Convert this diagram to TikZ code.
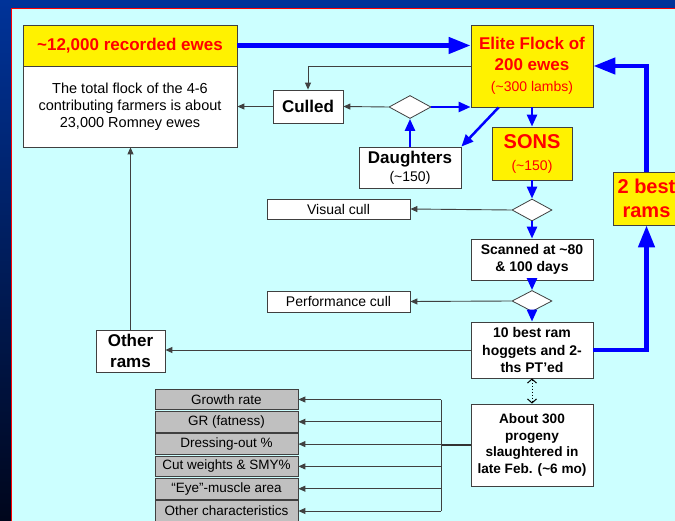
\documentclass[tikz,border=0pt]{standalone}
\usepackage{fontspec}
\setmainfont{Liberation Sans}
\usetikzlibrary{arrows.meta, shapes.geometric}

\definecolor{panel}{RGB}{204,255,255}
\definecolor{frametop}{RGB}{0,51,153}
\definecolor{framebot}{RGB}{0,6,28}
\definecolor{boxgray}{RGB}{192,192,192}

\begin{document}
\begin{tikzpicture}[x=1pt, y=-1pt,
    wbox/.style={draw=black!75, fill=white, line width=0.8pt, align=center, inner sep=0pt},
    ybox/.style={wbox, fill=yellow, text=red},
    gbox/.style={wbox, fill=boxgray, minimum width=143pt, minimum height=20.5pt, font=\fontsize{13.5}{16}\selectfont},
    dia/.style={diamond, draw=black!75, fill=white, line width=0.8pt, inner sep=0pt},
    thinarr/.style={draw=black!75, line width=0.9pt, -{Triangle[length=7pt,width=6pt]}},
    bluearr/.style={draw=blue, line width=2.5pt, -{Triangle[length=12pt,width=10pt]}},
    bluethick/.style={draw=blue, line width=4.5pt, -{Triangle[length=22pt,width=16pt]}}]
    \useasboundingbox (0,0) rectangle (675,521);
    \clip (0,0) rectangle (675,521);
    \shade[top color=frametop, bottom color=framebot] (0,0) rectangle (675,521);
    \fill[panel] (11,9) rectangle (690,540);
    \draw[red, line width=1pt] (11,540) -- (11,9) -- (690,9);

    \node[ybox, minimum width=214pt, minimum height=41pt, font=\fontsize{17}{20}\selectfont\bfseries] (rec) at (130,45.5) {\textasciitilde12,000 recorded ewes};
    \node[wbox, minimum width=214pt, minimum height=81pt, font=\fontsize{14.5}{17}\selectfont] (tot) at (130,106.5) {The total flock of the 4-6\\contributing farmers is about\\23,000 Romney ewes};
    \node[ybox, minimum width=122pt, minimum height=82pt, font=\fontsize{17}{21}\selectfont\bfseries] (elite) at (532,66) {Elite Flock of\\200 ewes\\{\fontsize{14}{20}\selectfont\mdseries (\textasciitilde300 lambs)}};
    \node[wbox, minimum width=70pt, minimum height=33pt, font=\fontsize{17}{20}\selectfont\bfseries] (culled) at (308,106.5) {Culled};
    \node[dia, minimum width=42pt, minimum height=23pt] (dia1) at (410,107) {};
    \node[wbox, minimum width=102pt, minimum height=41pt, font=\fontsize{17}{18}\selectfont\bfseries] (daughters) at (410,167.5) {Daughters\\{\fontsize{14}{18}\selectfont\mdseries (\textasciitilde150)}};
    \node[ybox, minimum width=80pt, minimum height=53pt, font=\fontsize{20}{22}\selectfont\bfseries] (sons) at (532,153.5) {SONS\\{\fontsize{14}{22}\selectfont\mdseries (\textasciitilde150)}};
    \node[dia, minimum width=40pt, minimum height=22pt] (dia2) at (532,210) {};
    \node[wbox, minimum width=143pt, minimum height=20pt, font=\fontsize{14}{16}\selectfont] (visual) at (338.5,209) {Visual cull};
    \node[wbox, minimum width=122pt, minimum height=41pt, font=\fontsize{14}{17}\selectfont\bfseries] (scanned) at (532,259.5) {Scanned at \textasciitilde80\\\& 100 days};
    \node[dia, minimum width=40pt, minimum height=21pt] (dia3) at (532,301) {};
    \node[wbox, minimum width=143pt, minimum height=21pt, font=\fontsize{14}{16}\selectfont] (perf) at (338.5,301.5) {Performance cull};
    \node[wbox, minimum width=122pt, minimum height=56pt, font=\fontsize{14}{17.5}\selectfont\bfseries] (best10) at (532,350) {10 best ram\\hoggets and 2-\\ths PT’ed};
    \node[wbox, minimum width=69pt, minimum height=42pt, font=\fontsize{17}{21}\selectfont\bfseries] (other) at (130.5,351) {Other\\rams};
    \node[ybox, minimum width=67pt, minimum height=53pt, font=\fontsize{20}{24}\selectfont\bfseries] (best2) at (646.5,198.5) {2 best\\rams};
    \node[wbox, minimum width=122pt, minimum height=82pt, font=\fontsize{13.6}{16.7}\selectfont\bfseries] (about) at (532,445) {About 300\\progeny\\slaughtered in\\late Feb. (\textasciitilde6 mo)};
    \node[gbox] (g1) at (226.5,399.5) {Growth rate};
    \node[gbox] (g2) at (226.5,421.8) {GR (fatness)};
    \node[gbox] (g3) at (226.5,444.1) {Dressing-out \%};
    \node[gbox] (g4) at (226.5,466.4) {Cut weights \& SMY\%};
    \node[gbox] (g5) at (226.5,488.7) {“Eye”-muscle area};
    \node[gbox] (g6) at (226.5,511) {Other characteristics};
    \coordinate (bus) at (441,445);

    \draw[bluethick] (rec.east) -- (rec.east -| elite.west);
    \draw[thinarr] (elite.west) -| (culled.north);
    \draw[thinarr] (culled.west) -- (culled.west -| tot.east);
    \draw[thinarr] (dia1.west) -- (culled.east);
    \draw[bluearr] (dia1.east) -- (dia1.east -| elite.west);
    \draw[bluearr] (daughters.north) -- (dia1.south);
    \draw[bluearr] ([xshift=28pt]elite.south west) -- (daughters.north east);
    \draw[bluearr] (elite.south) -- (sons.north);
    \draw[bluearr] (sons.south) -- (dia2.north);
    \draw[thinarr] (dia2.west) -- (visual.east);
    \draw[bluearr] (dia2.south) -- (scanned.north);
    \draw[bluearr] (scanned.south) -- (dia3.north);
    \draw[thinarr] (dia3.west) -- (perf.east);
    \draw[bluearr] (dia3.south) -- (best10.north);
    \draw[thinarr] (best10.west) -- (best10.west -| other.east);
    \draw[thinarr] (other.north) -- (other.north |- tot.south);
    \draw[bluethick] (best10.east) -| (best2.south);
    \draw[bluethick] (best2.north) |- (elite.east);
    \draw[dotted, line width=1pt, {Straight Barb[length=4pt,width=9pt]}-{Straight Barb[length=4pt,width=9pt]}] (best10.south) -- (about.north);
    \draw[black!80, line width=1.8pt] (about.west) -- (bus);
    \draw[black!75, line width=0.9pt] (bus |- g1.east) -- (bus |- g6.east);
    \draw[thinarr] (bus |- g1.east) -- (g1.east);
    \draw[thinarr] (bus |- g2.east) -- (g2.east);
    \draw[thinarr] (bus |- g3.east) -- (g3.east);
    \draw[thinarr] (bus |- g4.east) -- (g4.east);
    \draw[thinarr] (bus |- g5.east) -- (g5.east);
    \draw[thinarr] (bus |- g6.east) -- (g6.east);
\end{tikzpicture}
\end{document}
